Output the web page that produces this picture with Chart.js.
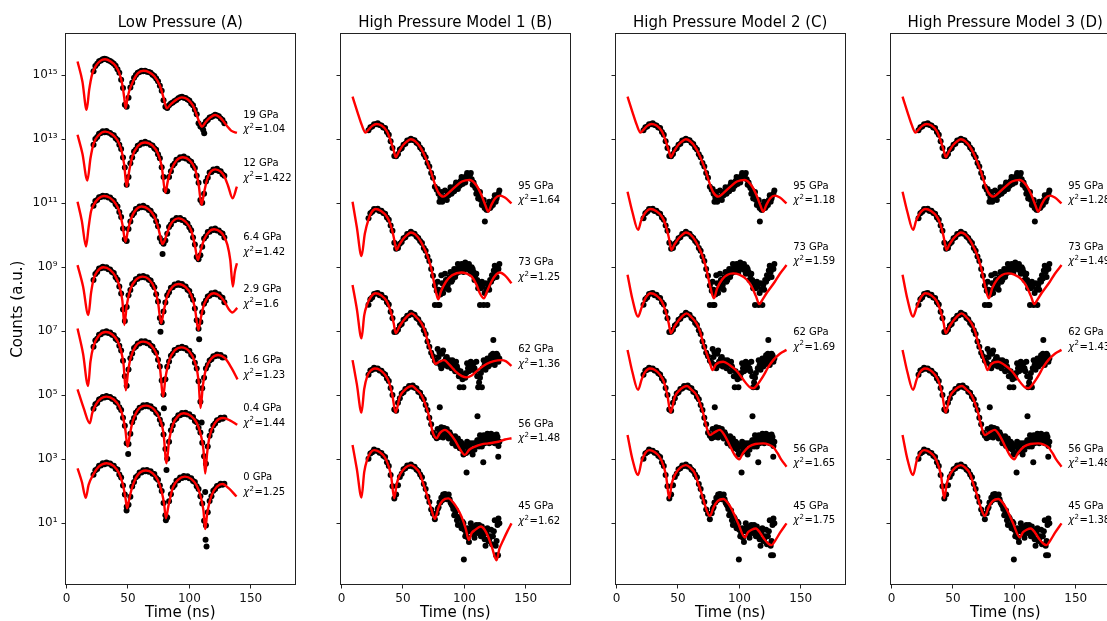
<!DOCTYPE html>
<html>
<head>
<meta charset="utf-8">
<title>NFS spectra</title>
<script src="https://cdn.jsdelivr.net/npm/chart.js@4/dist/chart.umd.min.js"></script>
<style>
  body { margin: 0; background: #fff; width: 1107px; height: 621px; overflow: hidden; position: relative; }
  .panel { position: absolute; top: 0; width: 300px; height: 621px; }
</style>
</head>
<body>
<div class="panel" style="left:0px"><canvas id="panelA" width="300" height="621"></canvas></div>
<div class="panel" style="left:275px"><canvas id="panelB" width="300" height="621"></canvas></div>
<div class="panel" style="left:550px"><canvas id="panelC" width="300" height="621"></canvas></div>
<div class="panel" style="left:825px"><canvas id="panelD" width="300" height="621"></canvas></div>
<script>
'use strict';

// Axes (all values in log10 of counts)
const xMin = -0.8;
const xMax = 186;
const xTicks = [0, 50, 100, 150];
const yLogMin = -0.91;
const yLogMax = 16.29;
const yTickExps = [1, 3, 5, 7, 9, 11, 13, 15];

// measured points: one value every 1.5 ns from 22 ns
const dotStart = 22;
const dotStep = 1.5;
// second row of points in the noisy tail of the high pressure data
const cloudStart = 78.25;
const cloudStep = 1.5;

const titles = ['Low Pressure (A)', 'High Pressure Model 1 (B)', 'High Pressure Model 2 (C)', 'High Pressure Model 3 (D)'];

// Low pressure labels
const pressuresA = ['19 GPa', '12 GPa', '6.4 GPa', '2.9 GPa', '1.6 GPa', '0.4 GPa', '0 GPa'];
const chiA = ['1.04', '1.422', '1.42', '1.6', '1.23', '1.44', '1.25'];
const labelYA = [13.76, 12.25, 9.93, 8.31, 6.09, 4.59, 2.43];

// High pressure labels
const pressuresH = ['95 GPa', '73 GPa', '62 GPa', '56 GPa', '45 GPa'];
const chiB = ['1.64', '1.25', '1.36', '1.48', '1.62'];
const chiC = ['1.18', '1.59', '1.69', '1.65', '1.75'];
const chiD = ['1.28', '1.49', '1.43', '1.48', '1.38'];
const labelYB = [11.54, 9.14, 6.42, 4.10, 1.52];
const labelYC = [11.54, 9.63, 6.97, 3.32, 1.54];
const labelTime = 143.8;

// Low pressure data points
const dotsA19 = [15.13,15.29,15.36,15.44,15.46,15.5,15.52,15.5,15.47,15.45,15.41,15.36,15.3,15.19,15.08,14.86,14.6,14.08,14.02,14.3,14.62,14.77,14.92,15.01,15.08,15.1,15.14,15.13,15.14,15.11,15.1,15.08,15.02,14.98,14.9,14.81,14.67,14.52,14.22,14.02,13.98,14.06,14.12,14.15,14.2,14.23,14.28,14.31,14.33,14.3,14.29,14.24,14.21,14.12,14.06,13.92,13.78,13.5,13.4,13.36,13.46,13.56,13.6,13.68,13.7,13.73,13.77,13.74,13.72,13.65,13.6,13.5];
const dotsA12 = [12.83,13.01,13.07,13.17,13.2,13.25,13.22,13.26,13.21,13.2,13.14,13.13,13.03,12.98,12.83,12.7,12.43,12.12,11.58,11.82,12.25,12.43,12.62,12.68,12.8,12.82,12.89,12.87,12.92,12.88,12.88,12.82,12.81,12.72,12.67,12.53,12.41,12.13,11.82,11.42,11.38,11.82,12.0,12.18,12.24,12.36,12.37,12.44,12.42,12.46,12.4,12.4,12.33,12.3,12.18,12.1,11.86,11.64,11.1,11.02,11.3,11.68,11.8,11.96,11.98,12.06,12.04,12.08,12.01,12.0,11.91,11.86];
const dotsA6 = [10.92,11.07,11.1,11.19,11.2,11.24,11.21,11.23,11.18,11.18,11.11,11.08,10.97,10.9,10.73,10.57,10.21,9.88,9.82,10.2,10.43,10.63,10.7,10.82,10.84,10.9,10.88,10.92,10.87,10.86,10.79,10.77,10.66,10.6,10.44,10.28,9.92,9.8,9.74,9.84,10.05,10.26,10.34,10.46,10.47,10.54,10.51,10.54,10.48,10.48,10.4,10.37,10.25,10.16,9.93,9.71,9.32,9.25,9.38,9.64,9.9,9.97,10.1,10.11,10.19,10.17,10.21,10.15,10.15,10.08,10.06,9.93];
const dotsA29 = [8.6,8.79,8.85,8.96,8.97,9.02,8.99,9.0,8.94,8.93,8.85,8.82,8.69,8.61,8.4,8.18,7.68,7.32,7.76,8.13,8.29,8.47,8.52,8.63,8.64,8.71,8.69,8.73,8.68,8.69,8.61,8.59,8.46,8.38,8.16,7.93,7.42,7.28,7.62,7.9,8.13,8.22,8.36,8.38,8.46,8.45,8.5,8.45,8.48,8.41,8.4,8.3,8.26,8.11,7.99,7.71,7.35,7.08,7.29,7.6,7.86,7.96,8.09,8.11,8.19,8.17,8.21,8.15,8.16,8.07,8.05,7.91];
const dotsA16 = [6.52,6.71,6.77,6.89,6.91,6.97,6.96,7.0,6.95,6.96,6.89,6.88,6.77,6.72,6.55,6.4,6.08,5.6,5.3,5.81,6.16,6.31,6.48,6.53,6.62,6.62,6.69,6.66,6.69,6.63,6.64,6.56,6.53,6.4,6.33,6.11,5.9,5.46,5.03,5.5,5.89,6.06,6.24,6.3,6.42,6.42,6.49,6.48,6.52,6.47,6.48,6.4,6.39,6.27,6.21,6.02,5.84,5.44,4.8,5.22,5.55,5.84,5.95,6.09,6.13,6.22,6.22,6.28,6.24,6.26,6.18,6.19];
const dotsA04 = [4.58,4.72,4.76,4.87,4.89,4.95,4.93,4.98,4.95,4.95,4.89,4.88,4.8,4.76,4.63,4.54,4.3,4.05,3.5,3.48,3.8,4.16,4.29,4.46,4.52,4.61,4.62,4.69,4.66,4.7,4.65,4.66,4.58,4.56,4.46,4.41,4.24,4.1,3.78,3.32,3.02,3.55,3.91,4.06,4.23,4.28,4.38,4.38,4.45,4.42,4.46,4.4,4.41,4.33,4.32,4.2,4.16,3.99,3.84,3.52,3.1,2.86,3.4,3.74,3.89,4.06,4.12,4.22,4.23,4.3,4.27,4.31];
const dotsA0 = [2.52,2.66,2.7,2.8,2.81,2.88,2.85,2.9,2.87,2.87,2.81,2.8,2.71,2.68,2.53,2.43,2.18,1.9,1.52,1.58,1.83,2.15,2.29,2.44,2.49,2.59,2.59,2.66,2.63,2.67,2.61,2.63,2.55,2.54,2.42,2.36,2.18,2.01,1.64,1.25,1.18,1.69,1.91,2.13,2.2,2.33,2.35,2.43,2.42,2.48,2.44,2.47,2.41,2.41,2.32,2.29,2.16,2.07,1.85,1.62,1.08,0.93,1.35,1.7,1.85,2.02,2.07,2.17,2.18,2.24,2.21,2.24];
const strayA = [[111.3,13.29],[112.1,13.19],[78.2,9.42],[76.5,6.99],[108,6.75],[79.3,4.6],[50.2,3.17],[81.4,2.67],[110,4.15],[112.9,1.98],[48.9,1.4],[80.9,1.1],[113.2,0.49],[114,0.28]];

// High pressure data points (same measurement in B, C and D)
const dotsH95 = [13.28,13.38,13.4,13.47,13.47,13.5,13.45,13.43,13.37,13.35,13.23,13.14,12.94,12.73,12.48,12.47,12.54,12.68,12.72,12.83,12.86,12.96,12.97,13.02,12.98,12.97,12.89,12.85,12.74,12.68,12.53,12.44,12.26,12.15,11.95,11.8,11.52,11.42,11.3,11.18,11.05,11.2,11.15,11.3,11.38,11.3,11.45,11.55,11.5,11.62,11.7,11.6,11.78,11.85,11.92,11.88,11.75,11.65,11.48,11.4,11.25,11.1,11.0,10.85,10.8,10.95,10.85,11.0,11.1,11.05,11.25,11.4];
const dotsH73 = [10.53,10.69,10.74,10.82,10.81,10.83,10.76,10.77,10.7,10.67,10.56,10.49,10.31,10.14,9.77,9.58,9.6,9.74,9.79,9.91,9.94,10.04,10.05,10.11,10.06,10.05,9.96,9.92,9.82,9.76,9.6,9.52,9.34,9.2,8.95,8.74,8.43,8.27,8.3,8.15,8.5,8.35,8.6,8.45,8.7,8.55,8.8,8.7,8.95,8.85,9.05,8.95,9.1,9.0,9.05,8.9,9.0,8.85,8.75,8.6,8.5,8.35,8.4,8.2,8.3,8.45,8.6,8.75,8.9,8.85,9.0,9.1];
const dotsH62 = [7.83,8.0,8.06,8.17,8.18,8.2,8.13,8.14,8.06,8.04,7.91,7.84,7.61,7.41,6.98,6.99,7.05,7.18,7.23,7.36,7.39,7.49,7.5,7.58,7.53,7.52,7.42,7.38,7.26,7.2,7.03,6.92,6.68,6.52,6.33,6.22,6.08,6.02,6.2,5.95,6.3,6.05,6.15,5.9,6.1,5.85,6.0,5.75,5.9,5.6,5.75,5.5,5.65,5.7,5.85,5.95,5.8,6.0,5.75,5.6,5.4,5.7,5.85,5.95,6.05,5.9,6.1,6.0,6.2,6.1,6.25,6.15];
const dotsH56 = [5.64,5.78,5.8,5.86,5.83,5.84,5.78,5.77,5.69,5.65,5.53,5.45,5.23,5.01,4.56,4.52,4.77,4.91,5.06,5.1,5.2,5.21,5.29,5.27,5.31,5.24,5.22,5.11,5.08,4.96,4.88,4.7,4.54,4.3,4.1,3.83,3.74,3.66,3.78,3.9,3.82,3.98,3.88,3.75,3.85,3.7,3.6,3.72,3.55,3.45,3.55,3.3,3.4,3.2,3.35,3.45,3.3,3.5,3.45,3.6,3.4,3.55,3.65,3.5,3.7,3.6,3.72,3.55,3.75,3.6,3.7,3.55];
const dotsH45 = [3.02,3.18,3.22,3.31,3.27,3.27,3.21,3.2,3.11,3.07,2.91,2.79,2.51,2.16,1.78,1.9,2.19,2.45,2.55,2.69,2.72,2.81,2.79,2.84,2.78,2.77,2.68,2.64,2.53,2.44,2.23,2.07,1.83,1.67,1.43,1.3,1.13,1.32,1.5,1.65,1.72,1.8,1.85,1.82,1.75,1.6,1.45,1.3,1.1,1.2,0.95,1.05,0.8,0.7,0.55,0.75,0.9,0.65,0.85,0.7,0.95,0.6,0.8,0.5,0.7,0.45,0.6,0.35,0.75,0.3,0.95,1.0];
const cloudH95 = [11.45,11.05,11.35,11.12,11.4,11.1,11.25,11.5,11.35,11.38,11.65,11.45,11.55,11.82,11.7,11.65,11.95,11.8,11.95,11.58,11.55,11.3,11.15,11.35,10.95,11.1,10.9,10.8,11.05,10.9,10.95,11.25,11.15,11.3];
const cloudH73 = [8.55,7.82,8.75,8.2,8.8,8.6,8.3,8.85,8.6,8.95,8.8,9.1,8.9,9.1,8.85,9.15,8.95,9.1,8.8,8.95,8.6,8.8,8.35,7.82,8.55,7.82,8.5,7.82,8.3,8.55,8.65,9.05,8.7,8.95];
const cloudH62 = [6.45,6.35,5.85,6.4,5.95,6.2,6.05,5.95,6.1,5.95,6.05,5.8,5.25,5.65,5.25,5.55,6.0,5.75,6.05,5.9,5.85,6.05,5.25,5.55,5.25,6.1,5.8,6.15,5.95,6.25,6.3,5.95,6.3,6.05];
const cloudH56 = [3.95,3.7,4.0,3.68,3.78,3.95,3.65,3.78,3.5,3.62,3.42,3.65,3.35,3.5,3.15,3.45,3.55,3.25,3.5,3.15,3.3,3.5,3.6,3.75,3.4,3.75,3.6,3.8,3.5,3.8,3.65,3.5,3.78,3.42];
const cloudH45 = [1.45,1.65,1.8,1.9,1.92,1.75,1.9,1.65,1.55,1.25,1.4,0.95,1.15,0.85,1.0,0.6,0.85,0.42,1.0,0.8,0.55,0.95,0.8,0.75,0.9,0.65,0.3,0.85,0.5,0.8,0.6,1.1,0.45,1.15];
const strayH = [[116.7,10.43],[76,7.82],[78.7,7.82],[123.6,6.73],[80,4.63],[110.7,4.35],[101.8,2.59],[115.4,2.91],[127.6,3.08],[99.6,-0.13],[125.8,0.0],[127.4,0.0]];

// Fits, [time ns, log10 counts]
const fitA19 = [[9,15.43],[13,14.8],[16.4,13.92],[18.5,14.55],[21,15.05],[24,15.3],[27.5,15.45],[31.4,15.5],[36,15.43],[40,15.29],[43,15.07],[45.5,14.7],[47,14.3],[48.2,13.97],[49.5,14.25],[51,14.5],[54,14.8],[58,15.06],[62.6,15.14],[67,15.1],[71.5,14.97],[76,14.68],[79,14.3],[81.6,13.97],[85,14.1],[89.5,14.24],[93.9,14.31],[98.5,14.25],[103,14.05],[106,13.76],[108.5,13.5],[110.2,13.39],[113.5,13.55],[117,13.68],[121,13.76],[125,13.68],[128,13.55],[131,13.4],[134,13.27],[138.7,13.2]];
const fitA12 = [[9,13.14],[13,12.55],[17,11.71],[19.5,12.4],[22,12.86],[26,13.12],[31.4,13.24],[37,13.16],[41.5,12.97],[44.5,12.69],[47,12.2],[49,11.52],[51,12.0],[53.5,12.45],[58,12.78],[64,12.9],[70,12.8],[74.5,12.55],[77.5,12.16],[80.5,11.33],[82.5,11.7],[85,12.02],[89.5,12.34],[94.7,12.44],[100,12.35],[104.5,12.08],[107.5,11.61],[109.9,10.95],[112,11.34],[115,11.82],[121,12.06],[125.5,11.99],[128.5,11.84],[131.5,11.55],[135.2,11.16],[138.7,11.52]];
const fitA6 = [[9,11.05],[12.5,10.45],[15.9,9.65],[18,10.25],[20,10.75],[22,10.94],[26,11.15],[30.6,11.23],[35.5,11.17],[40,10.99],[43,10.75],[45.5,10.35],[48,9.8],[50,10.15],[52,10.45],[55,10.72],[61.3,10.9],[67,10.81],[71.5,10.59],[74.5,10.26],[76.5,9.95],[78.1,9.73],[80,9.85],[82,10.08],[85,10.36],[91.1,10.53],[97,10.42],[101.5,10.15],[104.5,9.69],[106.9,9.23],[109,9.5],[112,9.87],[116.5,10.13],[120.2,10.19],[125,10.12],[128,9.98],[131,9.7],[133.3,9.23],[135.4,8.4],[137,8.85],[138.7,9.13]];
const fitA29 = [[9,9.07],[13.5,8.4],[17.8,7.51],[20,8.2],[22,8.62],[25,8.87],[30,9.0],[35.5,8.92],[40,8.71],[43,8.42],[45.5,7.95],[47.1,7.2],[49,7.79],[52,8.31],[56.5,8.61],[62,8.71],[67,8.63],[71.5,8.36],[74.5,7.91],[77,7.25],[79,7.6],[82,8.11],[86.5,8.4],[91.2,8.48],[97,8.38],[101.5,8.13],[104.5,7.73],[107.4,7.04],[109.5,7.45],[112,7.84],[116.5,8.13],[120,8.19],[125,8.1],[129,7.9],[132,7.7],[135,7.59],[139,7.73]];
const fitA16 = [[9,7.09],[13.5,6.3],[17.6,5.29],[19.5,6.05],[22,6.54],[26.5,6.87],[32,6.98],[37,6.91],[41.5,6.7],[44.5,6.38],[46.5,5.95],[48.3,5.16],[50,5.7],[52,6.14],[56.5,6.55],[62.4,6.68],[68.5,6.58],[73,6.31],[76,5.88],[78.7,4.96],[80.5,5.53],[83.5,6.08],[88,6.4],[93.6,6.5],[100,6.37],[104.5,6.04],[107.5,5.46],[109.1,4.6],[111,5.3],[113.5,5.82],[118,6.15],[123.5,6.26],[129,6.16],[134.4,5.85],[139.2,5.5]];
const fitA04 = [[9,5.19],[14,4.6],[19,4.13],[21,4.45],[24,4.72],[28,4.9],[32.6,4.96],[38.5,4.87],[43,4.65],[46,4.32],[48,3.9],[49.7,3.4],[51.5,3.75],[53.5,4.13],[58,4.54],[64.6,4.68],[71.5,4.55],[76,4.26],[79,3.81],[81.4,2.88],[83.5,3.58],[86.5,4.08],[91,4.36],[95.5,4.44],[101.5,4.35],[106,4.14],[109,3.82],[111.5,3.3],[112.9,2.56],[114.5,3.2],[116.5,3.72],[121,4.14],[127.6,4.29],[133,4.22],[139,4.08]];
const fitA0 = [[9,2.72],[12.5,2.3],[15.7,1.8],[18,2.2],[22,2.54],[26.5,2.78],[32.6,2.88],[38.5,2.79],[43,2.55],[46,2.2],[48,1.8],[49.4,1.47],[51,1.75],[53.5,2.13],[58,2.51],[64.6,2.65],[70,2.57],[74.5,2.34],[77.5,1.99],[79.5,1.6],[80.9,1.16],[83,1.55],[86.5,2.11],[91,2.37],[96.4,2.46],[101.5,2.39],[106,2.18],[109,1.87],[111.5,1.4],[112.9,0.82],[114.5,1.3],[118,1.87],[122.5,2.15],[127,2.23],[132,2.1],[138.4,1.84]];

const fitB95 = [[9,14.33],[13,13.85],[16.5,13.45],[19.5,13.21],[22,13.3],[25,13.42],[28.5,13.48],[32.5,13.43],[37,13.25],[40,12.96],[42.5,12.65],[44.2,12.44],[46.5,12.6],[50,12.81],[53.5,12.94],[56.5,13.0],[60,12.94],[64,12.76],[67,12.55],[70,12.28],[73,11.97],[76,11.6],[79,11.33],[82.8,11.21],[87,11.32],[93,11.53],[98,11.68],[104.5,11.73],[110,11.55],[114,11.25],[117,10.95],[119.4,10.74],[122,10.95],[125,11.15],[129,11.24],[133,11.18],[138.4,11.0]];
const fitB73 = [[9,11.05],[12.5,10.25],[16.3,9.35],[19,10.05],[22,10.5],[24.5,10.72],[27.7,10.82],[32.5,10.75],[37,10.58],[40,10.33],[42.5,9.95],[44.8,9.54],[47,9.7],[50,9.88],[53,10.0],[56.5,10.09],[60,10.03],[64,9.84],[67,9.62],[70,9.36],[73,8.97],[75.5,8.5],[78.7,8.0],[81,8.25],[85,8.55],[90,8.75],[97.7,8.84],[102,8.8],[106,8.71],[110,8.45],[112.6,8.19],[115.9,8.03],[118.5,8.25],[122,8.55],[126,8.78],[128.9,8.84],[133,8.75],[138.4,8.5]];
const fitB62 = [[9,8.45],[12.5,7.7],[16.3,6.78],[18.5,7.5],[21,7.85],[24,8.08],[27.7,8.19],[32.5,8.12],[37,7.93],[40,7.63],[42.5,7.25],[44.2,6.94],[47,7.14],[50.5,7.34],[53.5,7.47],[57,7.56],[61,7.44],[65.1,7.25],[68,7.0],[70.6,6.62],[73.5,6.3],[76.5,5.98],[79.5,6.05],[83.5,6.1],[88,5.95],[93,5.74],[98,5.6],[101.8,5.56],[106,5.62],[112,5.82],[118,5.98],[124,6.07],[130,6.1],[134,6.06],[138.4,5.92]];
const fitB56 = [[9,6.1],[12.5,5.35],[16.3,4.46],[18.5,5.2],[21,5.6],[24,5.78],[27.1,5.84],[31,5.8],[35.5,5.64],[38.5,5.43],[41.5,4.99],[44,4.46],[47.5,4.96],[51,5.15],[57.5,5.29],[61,5.18],[65.1,5.01],[68,4.75],[70.6,4.44],[73,4.05],[74.6,3.81],[77.4,3.66],[80,3.82],[84.2,3.92],[88,3.82],[92.3,3.6],[96,3.35],[100.4,3.14],[104,3.3],[108.6,3.4],[114,3.47],[119.4,3.5],[127.6,3.55],[133,3.62],[138.4,3.66]];
const fitB45 = [[9,3.45],[12.5,2.7],[16.3,1.81],[18.5,2.6],[21,3.0],[23.5,3.2],[26.6,3.29],[31,3.23],[35.5,3.05],[38.5,2.77],[40.5,2.45],[42.9,1.78],[45,2.25],[48,2.55],[52,2.74],[56.5,2.82],[60,2.74],[63.8,2.56],[66.5,2.25],[69.2,1.94],[73.3,1.42],[76,1.14],[79,1.5],[82.5,1.72],[86.9,1.78],[91,1.65],[94.5,1.45],[97.7,1.21],[101,0.85],[103.7,0.48],[106,0.7],[108.6,0.79],[113.5,0.9],[116.5,0.8],[119.4,0.58],[122.5,0.25],[126.2,-0.15],[128.5,0.2],[131.7,0.48],[135,0.75],[138.4,1.0]];

const fitC95 = [[9,14.33],[13,13.85],[16.5,13.45],[19.5,13.21],[22,13.3],[25,13.42],[28.5,13.48],[32.5,13.43],[37,13.25],[40,12.96],[42.5,12.65],[44.2,12.44],[46.5,12.6],[50,12.81],[53.5,12.94],[56.5,13.0],[60,12.94],[64,12.76],[67,12.55],[70,12.28],[73,11.97],[76,11.6],[79,11.33],[82.8,11.21],[87,11.32],[93,11.53],[98,11.68],[104.5,11.73],[110,11.55],[114,11.25],[117,10.95],[119.4,10.74],[122,10.95],[125,11.15],[129,11.24],[133,11.18],[138.4,11.0]];
const fitC73 = [[9,11.36],[13,10.72],[17.6,10.17],[20,10.45],[23,10.68],[27.7,10.82],[32.5,10.75],[37,10.58],[40,10.33],[42.5,9.95],[44.8,9.54],[47,9.7],[50,9.88],[53,10.0],[56.5,10.09],[60,10.03],[64,9.84],[67,9.62],[70,9.36],[73,8.97],[76,8.45],[79.3,8.03],[82,8.35],[86,8.62],[90,8.76],[95,8.81],[100,8.77],[105.9,8.62],[110,8.4],[113.5,8.1],[116.2,7.85],[119,8.0],[122.1,8.19],[128.9,8.55],[133,8.8],[138.4,9.07]];
const fitC62 = [[9,8.77],[13,8.0],[17.6,7.46],[20.5,7.75],[23.5,8.03],[27.7,8.19],[32.5,8.12],[37,7.93],[40,7.63],[42.5,7.25],[44.2,6.94],[47,7.14],[50.5,7.34],[53.5,7.47],[57,7.56],[61,7.44],[65.1,7.25],[68,7.0],[70.6,6.62],[73.5,6.3],[76,6.02],[78.2,5.79],[81,5.97],[86.9,6.05],[92,5.95],[97.7,5.77],[103,5.5],[108.6,5.25],[111.3,5.22],[115,5.35],[119.4,5.6],[123.5,5.88],[127.6,6.1],[133,6.3],[138.4,6.42]];
const fitC56 = [[9,6.42],[13,5.72],[17.6,5.17],[20.5,5.5],[23.5,5.74],[27.1,5.84],[31,5.8],[35.5,5.64],[38.5,5.43],[41.5,4.99],[44,4.46],[47.5,4.96],[51,5.15],[57.5,5.29],[61,5.18],[65.1,5.01],[68,4.75],[70.6,4.44],[73,4.05],[76,3.76],[80,3.85],[84,3.92],[88,3.75],[92,3.45],[96,3.15],[99.9,3.0],[103,3.2],[108,3.4],[113,3.48],[119.4,3.5],[124,3.46],[127.6,3.38],[131,3.2],[134,3.0],[138.4,2.77]];
const fitC45 = [[9,3.76],[13,3.0],[17.6,2.51],[20.5,2.95],[23.5,3.2],[26.6,3.29],[31,3.23],[35.5,3.05],[38.5,2.77],[40.5,2.45],[42.9,1.78],[45,2.25],[48,2.55],[52,2.74],[56.5,2.82],[60,2.74],[63.8,2.56],[66.5,2.25],[69.2,1.94],[73.3,1.42],[76,1.23],[79,1.5],[82.5,1.7],[86.9,1.76],[91,1.62],[95,1.35],[99,1.0],[104.5,0.56],[107,0.72],[110,0.8],[113.5,0.84],[117,0.7],[120.5,0.5],[123.5,0.37],[126.2,0.32],[129,0.45],[133,0.7],[138.4,1.0]];

// Helpers
const FONT = 'DejaVu Sans';
const supDigits = '⁰¹²³⁴⁵⁶⁷⁸⁹';

function sup(n) {
  return String(n).split('').map(d => supDigits[+d]).join('');
}

function gridPoints(vals, start, step) {
  return vals.map((v, i) => ({x: start + i * step, y: Math.pow(10, v)}));
}

function pairPoints(arr) {
  return arr.map(p => ({x: p[0], y: Math.pow(10, p[1])}));
}

function decorPlugin(panel) {
  return {
    id: 'decor',
    afterDraw(chart) {
      const ctx = chart.ctx;
      const a = chart.chartArea;
      const xs = chart.scales.x;
      const ys = chart.scales.y;
      ctx.save();
      // box around the axes
      ctx.strokeStyle = '#222';
      ctx.lineWidth = 1;
      ctx.strokeRect(Math.round(a.left) - 0.5, Math.round(a.top) - 0.5,
        Math.round(a.right - a.left), Math.round(a.bottom - a.top));

      ctx.fillStyle = '#000';
      const cx = (a.left + a.right) / 2;
      ctx.font = '15px "' + FONT + '"';
      ctx.textAlign = 'center';
      ctx.textBaseline = 'alphabetic';
      ctx.fillText(panel.title, cx, 27);
      ctx.fillText('Time (ns)', cx, 617);

      // curve labels
      ctx.textAlign = 'left';
      ctx.textBaseline = 'middle';
      const lx = xs.getPixelForValue(labelTime);
      panel.names.forEach((name, i) => {
        const ly = ys.getPixelForValue(Math.pow(10, panel.labelY[i]));
        ctx.font = '10px "' + FONT + '"';
        ctx.fillText(name, lx, ly);
        const ly2 = ly + 14.7;
        ctx.font = 'italic 10px "' + FONT + '"';
        ctx.fillText('χ', lx, ly2);
        let w = ctx.measureText('χ').width + 0.5;
        ctx.font = '7px "' + FONT + '"';
        ctx.fillText('2', lx + w, ly2 - 3.5);
        w += ctx.measureText('2').width + 0.5;
        ctx.font = '10px "' + FONT + '"';
        ctx.fillText('=' + panel.chis[i], lx + w, ly2);
      });

      if (panel.yLabel) {
        ctx.translate(18, (a.top + a.bottom) / 2);
        ctx.rotate(-Math.PI / 2);
        ctx.font = '15px "' + FONT + '"';
        ctx.textAlign = 'center';
        ctx.textBaseline = 'middle';
        ctx.fillText('Counts (a.u.)', 0, 0);
      }
      ctx.restore();
    }
  };
}

function makePanel(canvasId, panel) {
  const datasets = [];
  panel.fits.forEach(f => {
    datasets.push({
      data: pairPoints(f),
      borderColor: '#ff0000',
      borderWidth: 2.4,
      pointRadius: 0,
      cubicInterpolationMode: 'monotone',
      order: 0
    });
  });
  const dotStyle = {showLine: false, pointRadius: 3, pointBorderWidth: 0, pointBackgroundColor: '#000', borderColor: '#000', order: 1};
  panel.dots.forEach(d => datasets.push(Object.assign({data: gridPoints(d, dotStart, dotStep)}, dotStyle)));
  panel.clouds.forEach(c => datasets.push(Object.assign({data: gridPoints(c, cloudStart, cloudStep)}, dotStyle)));
  datasets.push(Object.assign({data: pairPoints(panel.stray)}, dotStyle));

  new Chart(document.getElementById(canvasId), {
    type: 'line',
    data: {datasets: datasets},
    options: {
      responsive: false,
      animation: false,
      devicePixelRatio: 1,
      layout: {padding: {left: 0, right: 5, top: 34, bottom: 0}},
      plugins: {legend: {display: false}, tooltip: {enabled: false}},
      scales: {
        x: {
          type: 'linear',
          min: xMin,
          max: xMax,
          afterBuildTicks: s => { s.ticks = xTicks.map(v => ({value: v})); },
          afterFit: s => { s.height = 36.5; },
          ticks: {
            callback: v => String(v),
            font: {family: FONT, size: 12},
            color: '#111',
            padding: 3,
            maxRotation: 0,
            autoSkip: false
          },
          grid: {drawOnChartArea: false, drawTicks: true, tickLength: 4, color: '#222'},
          border: {display: false}
        },
        y: {
          type: 'logarithmic',
          min: Math.pow(10, yLogMin),
          max: Math.pow(10, yLogMax),
          afterBuildTicks: s => { s.ticks = yTickExps.map(e => ({value: Math.pow(10, e)})); },
          afterFit: s => { s.width = 65.5; },
          ticks: {
            callback: panel.yLabel ? (v => '10' + sup(Math.round(Math.log10(v)))) : (() => ''),
            font: {family: FONT, size: 12},
            color: '#111',
            padding: 4,
            autoSkip: false
          },
          grid: {drawOnChartArea: false, drawTicks: true, tickLength: 4, color: '#222'},
          border: {display: false}
        }
      }
    },
    plugins: [decorPlugin(panel)]
  });
}

const highDots = [dotsH95, dotsH73, dotsH62, dotsH56, dotsH45];
const highClouds = [cloudH95, cloudH73, cloudH62, cloudH56, cloudH45];

makePanel('panelA', {
  title: titles[0], yLabel: true,
  names: pressuresA, chis: chiA, labelY: labelYA,
  fits: [fitA19, fitA12, fitA6, fitA29, fitA16, fitA04, fitA0],
  dots: [dotsA19, dotsA12, dotsA6, dotsA29, dotsA16, dotsA04, dotsA0],
  clouds: [], stray: strayA
});
makePanel('panelB', {
  title: titles[1], yLabel: false,
  names: pressuresH, chis: chiB, labelY: labelYB,
  fits: [fitB95, fitB73, fitB62, fitB56, fitB45],
  dots: highDots, clouds: highClouds, stray: strayH
});
makePanel('panelC', {
  title: titles[2], yLabel: false,
  names: pressuresH, chis: chiC, labelY: labelYC,
  fits: [fitC95, fitC73, fitC62, fitC56, fitC45],
  dots: highDots, clouds: highClouds, stray: strayH
});
// model 3 fits lie on top of model 2 at this scale
makePanel('panelD', {
  title: titles[3], yLabel: false,
  names: pressuresH, chis: chiD, labelY: labelYC,
  fits: [fitC95, fitC73, fitC62, fitC56, fitC45],
  dots: highDots, clouds: highClouds, stray: strayH
});
</script>
</body>
</html>
